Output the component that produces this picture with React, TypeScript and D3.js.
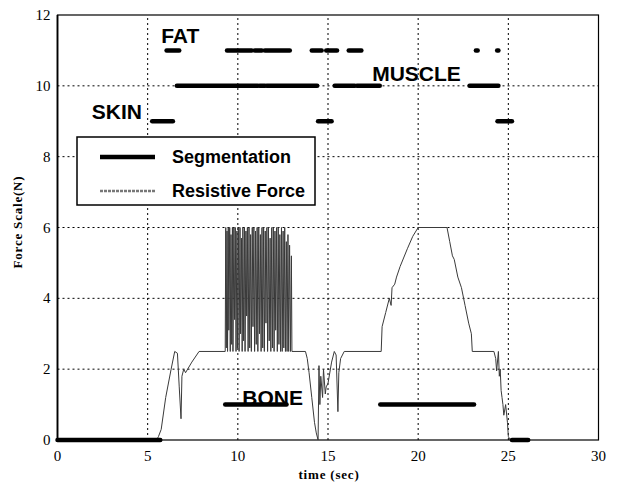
import React from "react";
import * as d3 from "d3";

const xTicks = [0, 5, 10, 15, 20, 25, 30];
const yTicks = [0, 2, 4, 6, 8, 10, 12];

// Segmentation segments: [start, end] in seconds at each tissue level
const zeroSegments: [number, number][] = [[0, 5.7], [25.2, 26.1]];
const boneSegments: [number, number][] = [[9.3, 12.7], [17.9, 23.1]];
const skinSegments: [number, number][] = [[5.25, 6.4], [14.45, 15.2], [24.4, 25.2]];
const muscleSegments: [number, number][] = [[6.62, 11.1], [11.2, 11.5], [11.6, 14.4], [15.37, 16.48], [16.6, 17.87], [22.85, 24.45]];
const fatSegments: [number, number][] = [[6.05, 6.75], [9.4, 10.77], [10.94, 11.33], [11.5, 12.88], [14.1, 14.65], [14.9, 15.5], [16.15, 16.85], [23.2, 23.3], [24.38, 24.45]];

const segLevels = [
  { level: 0, segs: zeroSegments },
  { level: 1, segs: boneSegments },
  { level: 9, segs: skinSegments },
  { level: 10, segs: muscleSegments },
  { level: 11, segs: fatSegments },
];

// Resistive force (time, N)
const forceTime = [
  0, 5.5, 5.6, 5.75, 6.0, 6.3, 6.5, 6.65, 6.75, 6.85, 6.9, 7.0, 7.1, 7.45, 7.85,
  9.3, 9.33, 9.36, 9.4, 9.43, 9.47, 9.5, 9.55, 9.58, 9.62, 9.66, 9.7, 9.73, 9.78, 9.82, 9.86, 9.9, 9.95, 9.98,
  10.03, 10.07, 10.12, 10.15, 10.2, 10.24, 10.28, 10.32, 10.37, 10.4, 10.45, 10.49, 10.53, 10.57, 10.62, 10.66,
  10.71, 10.75, 10.8, 10.84, 10.89, 10.93, 10.98, 11.02, 11.07, 11.11, 11.16, 11.2, 11.25, 11.29, 11.34, 11.38,
  11.43, 11.47, 11.52, 11.56, 11.61, 11.65, 11.7, 11.74, 11.79, 11.83, 11.88, 11.92, 11.97, 12.01, 12.06, 12.1,
  12.15, 12.19, 12.24, 12.28, 12.33, 12.37, 12.42, 12.46, 12.51, 12.55, 12.6, 12.64, 12.69, 12.73, 12.78, 12.82,
  12.87, 12.92, 12.97, 13.0,
  13.75, 13.85, 13.95, 14.1, 14.25, 14.35, 14.45, 14.5, 14.55, 14.6, 14.7, 14.75, 14.85, 14.9, 15.0, 15.2, 15.35,
  15.45, 15.55, 15.6, 15.7, 15.9, 17.95, 18.0, 18.2, 18.4, 18.5, 18.55, 18.7, 18.8, 19.0, 19.4, 19.7, 20.0, 21.6,
  21.75, 21.9, 22.0, 22.2, 22.4, 22.6, 22.8, 22.95, 23.0, 24.2, 24.3, 24.35, 24.45, 24.5, 24.55, 24.6, 24.65,
  24.7, 24.75, 24.85, 24.95, 25.0, 25.1, 26.1,
];
const forceValue = [
  0, 0, 0.1, 0.3, 1.2, 2.0, 2.5, 2.45, 1.5, 0.6, 1.8, 2.0, 1.9, 2.2, 2.5,
  2.5, 6, 2.6, 5.9, 2.5, 6, 3.1, 6, 2.5, 5.8, 2.7, 6, 2.5, 6, 3.4, 6, 2.5, 5.9, 2.6,
  6, 2.5, 6, 3.0, 5.7, 2.5, 6, 2.8, 6, 2.5, 5.9, 3.5, 6, 2.5, 6, 2.6,
  5.8, 2.5, 6, 3.2, 6, 2.5, 5.9, 2.7, 6, 2.5, 6, 3.0, 5.8, 2.5, 6, 2.6,
  6, 2.5, 5.9, 3.3, 6, 2.5, 6, 2.8, 5.7, 2.5, 6, 2.6, 6, 2.5, 5.9, 3.1,
  6, 2.5, 6, 2.7, 5.8, 2.5, 6, 2.5, 5.9, 2.6, 6, 2.5, 5.6, 2.5, 5.8, 2.5,
  5.5, 2.5, 5.2, 2.5,
  2.5, 2.3, 1.9, 1.2, 0.5, 0.2, 0, 2.1, 1.0, 1.8, 1.2, 2.0, 1.3, 1.5, 1.6, 2.2, 2.5,
  2.4, 0.8, 1.9, 2.3, 2.5, 2.5, 3.2, 3.6, 4.0, 3.8, 4.3, 4.4, 4.6, 4.9, 5.4, 5.75, 6.0, 6.0,
  5.6, 5.2, 5.1, 4.6, 4.3, 3.8, 3.3, 3.0, 2.5, 2.5, 2.3, 1.95, 2.5, 1.8, 2.0, 1.4, 1.2,
  1.0, 0.7, 1.0, 0.5, 0.1, 0, 0,
];

const labels = [
  { text: "FAT", t: 5.75, v: 11.2 },
  { text: "SKIN", t: 1.9, v: 9.05 },
  { text: "MUSCLE", t: 17.45, v: 10.15 },
  { text: "BONE", t: 10.25, v: 1.0 },
];

const W = 617;
const H = 484;
const margin = { left: 57.5, right: 18.5, top: 15, bottom: 44 };

export default function App() {
  const x = d3.scaleLinear().domain([0, 30]).range([margin.left, W - margin.right]);
  const y = d3.scaleLinear().domain([0, 12]).range([H - margin.bottom, margin.top]);
  const pts = forceTime.map((t, i) => [t, forceValue[i]] as [number, number]);
  const line = d3
    .line<[number, number]>()
    .x((d) => x(d[0]))
    .y((d) => y(d[1]));
  const serif = "'Liberation Serif', 'Times New Roman', serif";
  const sans = "'Liberation Sans', Arial, sans-serif";

  return (
    <svg width={W} height={H} style={{ position: "absolute", left: 0, top: 0, background: "#fff" }}>
      {/* grid */}
      {xTicks.filter((t) => t > 0 && t < 30).map((t) => (
        <line key={"gx" + t} x1={x(t)} x2={x(t)} y1={y(0)} y2={y(12)} stroke="#000" strokeWidth={1} strokeDasharray="2,3" />
      ))}
      {yTicks.filter((t) => t > 0 && t < 12).map((t) => (
        <line key={"gy" + t} x1={x(0)} x2={x(30)} y1={y(t)} y2={y(t)} stroke="#000" strokeWidth={1} strokeDasharray="2,3" />
      ))}
      {/* frame */}
      <rect x={x(0)} y={y(12)} width={x(30) - x(0)} height={y(0) - y(12)} fill="none" stroke="#000" strokeWidth={1.2} />
      <line x1={x(0)} x2={x(0)} y1={y(0)} y2={y(12)} stroke="#000" strokeWidth={1.8} />

      {/* tick labels */}
      {xTicks.map((t) => (
        <text key={"xt" + t} x={x(t)} y={y(0) + 21} textAnchor="middle" fontFamily={serif} fontSize={15} fill="#000">
          {t}
        </text>
      ))}
      {yTicks.map((t) => (
        <text key={"yt" + t} x={x(0) - 7} y={y(t) + 5} textAnchor="end" fontFamily={serif} fontSize={15} fill="#000">
          {t}
        </text>
      ))}
      <text x={329} y={479} textAnchor="middle" fontFamily={serif} fontSize={13} fontWeight="bold" letterSpacing={0.8} fill="#000">
        time (sec)
      </text>
      <text
        transform={`translate(22,222) rotate(-90)`}
        textAnchor="middle"
        fontFamily={serif}
        fontSize={13}
        fontWeight="bold"
        letterSpacing={0.8}
        fill="#000"
      >
        Force Scale(N)
      </text>

      {/* resistive force */}
      <path d={line(pts) || ""} fill="none" stroke="#3a3a3a" strokeWidth={1} />

      {/* segmentation */}
      {segLevels.map((g) =>
        g.segs.map((s, i) => (
          <line
            key={g.level + "-" + i}
            x1={x(s[0])}
            x2={x(s[1])}
            y1={y(g.level)}
            y2={y(g.level)}
            stroke="#000"
            strokeWidth={4.5}
            strokeLinecap="round"
          />
        ))
      )}

      {/* tissue labels */}
      {labels.map((l) => (
        <text key={l.text} x={x(l.t)} y={y(l.v)} fontFamily={sans} fontWeight="bold" fontSize={21} fill="#000">
          {l.text}
        </text>
      ))}

      {/* legend */}
      <rect x={77} y={137} width={238} height={68} fill="#fff" stroke="#000" strokeWidth={1.5} />
      <line x1={100} x2={155} y1={157} y2={157} stroke="#000" strokeWidth={4.5} />
      <text x={172} y={163} fontFamily={sans} fontWeight="bold" fontSize={18} fill="#000">
        Segmentation
      </text>
      <line x1={100} x2={155} y1={191} y2={191} stroke="#777" strokeWidth={2.5} strokeDasharray="3,1" />
      <text x={172} y={197} fontFamily={sans} fontWeight="bold" fontSize={18} fill="#000">
        Resistive Force
      </text>
    </svg>
  );
}
